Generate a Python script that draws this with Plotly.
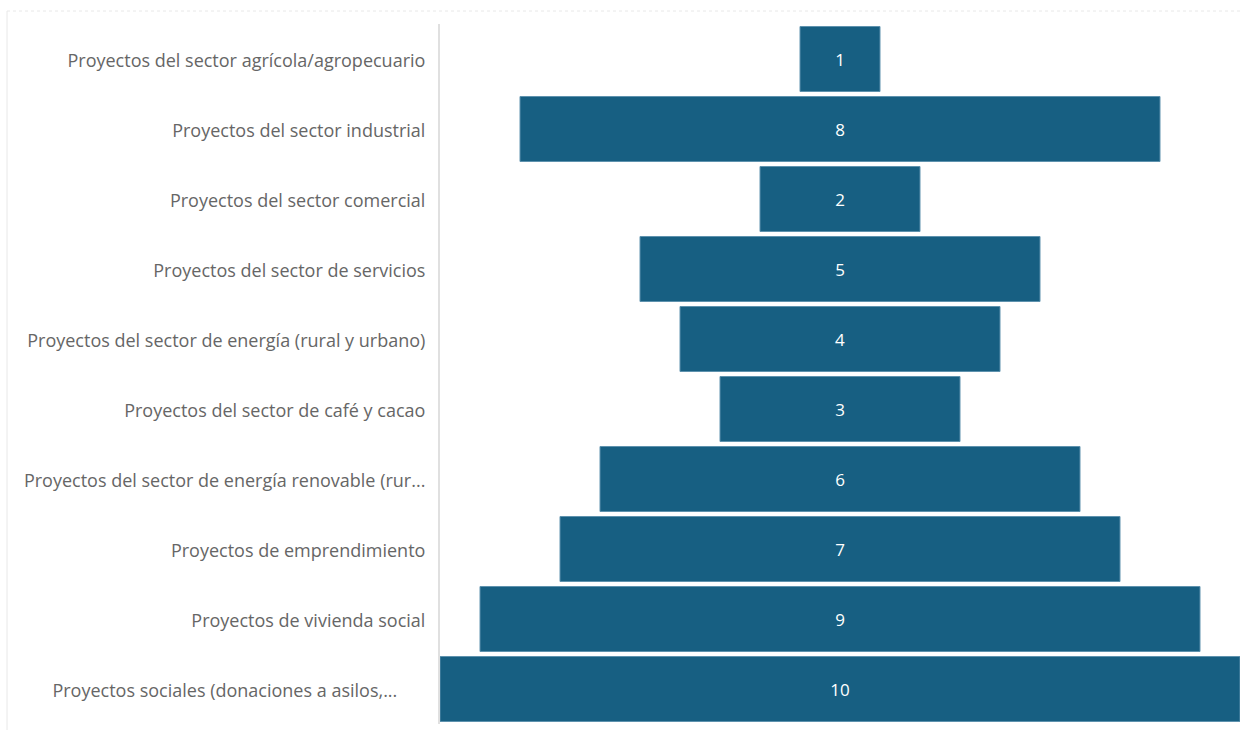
import plotly.graph_objects as go

# Project categories (top to bottom) and their counts
categorias = [
    "Proyectos del sector agrícola/agropecuario",
    "Proyectos del sector industrial",
    "Proyectos del sector comercial",
    "Proyectos del sector de servicios",
    "Proyectos del sector de energía (rural y urbano)",
    "Proyectos del sector de café y cacao",
    "Proyectos del sector de energía renovable (rur...",
    "Proyectos de emprendimiento",
    "Proyectos de vivienda social",
    "Proyectos sociales (donaciones a asilos,...\u00a0\u00a0\u00a0\u00a0\u00a0\u00a0",
]
valores = [1, 8, 2, 5, 4, 3, 6, 7, 9, 10]

BAR = "#175F82"
EDGE = "#5E92AE"
FONT = "Segoe UI, Open Sans, sans-serif"

fig = go.Figure(
    go.Funnel(
        y=categorias,
        x=valores,
        orientation="h",
        marker=dict(color=BAR, line=dict(color=EDGE, width=1)),
        connector=dict(visible=False),
        textinfo="value",
        textposition="inside",
        insidetextanchor="middle",
        textfont=dict(family=FONT, size=17, color="white"),
        hoverinfo="y+x",
    )
)

max_v = max(valores)
fig.update_layout(
    width=1244,
    height=731,
    margin=dict(l=440, r=4, t=24, b=7),
    paper_bgcolor="white",
    plot_bgcolor="white",
    funnelgap=5 / 70,
    showlegend=False,
    font=dict(family=FONT),
    xaxis=dict(
        range=[-max_v / 2, max_v / 2],
        visible=False,
        fixedrange=True,
    ),
    yaxis=dict(
        showline=True,
        linecolor="#E0E0E0",
        linewidth=2,
        ticks="",
        ticklabelstandoff=9,
        ticklabelshift=-2,
        tickfont=dict(family=FONT, size=18, color="#666666"),
        showgrid=False,
    ),
    shapes=[
        # card frame: dotted top edge and left edge
        dict(type="line", xref="paper", yref="paper",
             x0=-433 / 800, x1=1.0 + 3 / 800, y0=1 + 13 / 700, y1=1 + 13 / 700,
             line=dict(color="#E8E8E8", width=1, dash="dot")),
        dict(type="line", xref="paper", yref="paper",
             x0=-433 / 800, x1=-433 / 800, y0=-6 / 700, y1=1 + 13 / 700,
             line=dict(color="#E8E8E8", width=1)),
    ],
)

fig.write_html("out.html")
